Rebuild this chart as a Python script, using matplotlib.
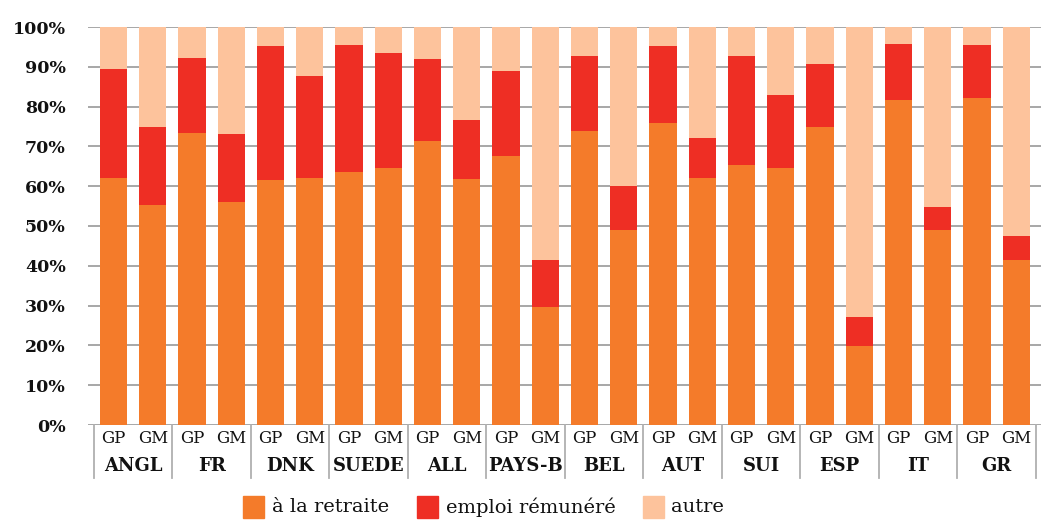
import matplotlib
matplotlib.use("Agg")
import matplotlib.pyplot as plt
from matplotlib.patches import Rectangle
import numpy as np

countries = ["ANGL", "FR", "DNK", "SUEDE", "ALL", "PAYS-B", "BEL", "AUT", "SUI", "ESP", "IT", "GR"]
sexes = ["GP", "GM"]
# cumulative reads converted to segment values (%), order: GP, GM per country
retraite = [62.0, 55.2, 73.3, 56.0, 61.5, 62.0, 63.5, 64.5, 71.3, 61.8, 67.5, 29.6,
            73.8, 49.0, 75.8, 62.0, 65.3, 64.5, 74.8, 19.8, 81.6, 49.0, 82.1, 41.4]
retraite_plus_emploi = [89.4, 74.8, 92.1, 73.1, 95.2, 87.6, 95.4, 93.4, 91.9, 76.6, 88.9, 41.4,
                        92.6, 60.0, 95.2, 72.1, 92.6, 82.8, 90.6, 27.1, 95.7, 54.7, 95.4, 47.5]
series_names = ["à la retraite", "emploi rémunéré", "autre"]
colors = ["#F47B2A", "#EE2E24", "#FDC39C"]
yticks = [0, 10, 20, 30, 40, 50, 60, 70, 80, 90, 100]

retraite = np.array(retraite)
emploi = np.array(retraite_plus_emploi) - retraite
autre = 100 - np.array(retraite_plus_emploi)

fig = plt.figure(figsize=(10.47, 5.21), dpi=100)
ax = fig.add_axes([88/1047, 1-425/521, (1041-88)/1047, 398/521])

x = np.arange(len(retraite))
w = 0.69
ax.bar(x, retraite, w, color=colors[0], zorder=3)
ax.bar(x, emploi, w, bottom=retraite, color=colors[1], zorder=3)
ax.bar(x, autre, w, bottom=retraite + emploi, color=colors[2], zorder=3)

ax.set_ylim(0, 100)
ax.set_xlim(-0.65, 23.63)
ax.set_yticks(yticks)
ax.set_yticklabels([f"{t}%" for t in yticks], fontfamily="DejaVu Serif",
                   fontweight="bold", fontsize=12.5, color="#111111")
ax.tick_params(axis="y", length=0, pad=16)
ax.set_xticks([])
for s in ax.spines.values():
    s.set_visible(False)
for t in yticks:
    ax.axhline(t, color="#a0a0a0", lw=1.3, zorder=1)

trans = ax.get_xaxis_transform()
for i in range(len(countries) + 1):
    ax.plot([i*2 - 0.5, i*2 - 0.5], [0, -0.133], transform=trans, color="#b0b0b0",
            lw=1.3, clip_on=False)
for i, c in enumerate(countries):
    for j, s in enumerate(sexes):
        ax.text(i*2 + j, -0.035, s, transform=trans, ha="center", va="center",
                fontfamily="DejaVu Serif", fontsize=12, color="#111111")
    ax.text(i*2 + 0.5, -0.103, c, transform=trans, ha="center", va="center",
            fontfamily="DejaVu Serif", fontweight="bold", fontsize=13, color="#111111")

# legend
sq_x = [243, 417, 643]
tx_x = [272, 446, 671]
for k in range(3):
    fig.patches.append(Rectangle((sq_x[k]/1047, 1-518/521), 21/1047, 22/521,
                                 transform=fig.transFigure, color=colors[k]))
    fig.text(tx_x[k]/1047, 1-507/521, series_names[k], ha="left", va="center",
             fontfamily="DejaVu Serif", fontsize=14, color="#111111")

fig.savefig("out.png", dpi=100)
